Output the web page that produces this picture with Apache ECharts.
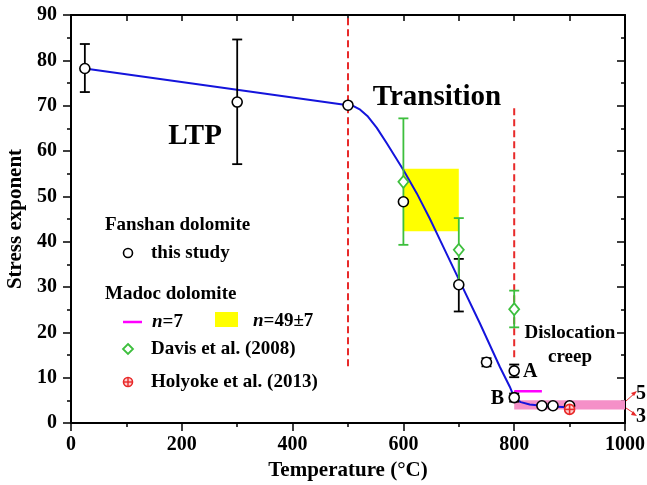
<!DOCTYPE html>
<html><head><meta charset="utf-8">
<script src="https://cdn.jsdelivr.net/npm/echarts@6/dist/echarts.min.js"></script>
<style>html,body{margin:0;padding:0;background:#fff}#c{width:647px;height:485px}</style>
</head><body><div id="c"></div>
<script>
const FONT = '"Liberation Serif","Times New Roman",serif';
// ---- data ----
const xTickLabels = ['0','200','400','600','800','1000'];
const yTickLabels = ['0','10','20','30','40','50','60','70','80','90'];
// Fanshan dolomite, this study
const studyT = [25, 300, 500, 600, 700, 750, 800, 800, 850, 870, 900];
const studyN = [78.2, 70.8, 70.1, 48.8, 30.5, 13.4, 11.5, 5.6, 3.8, 3.8, 3.8];
const studyErrT = [25, 300, 700, 750, 800, 800];
const studyErrLow = [73.0, 57.1, 24.6, 12.5, 10.1, 4.7];
const studyErrHigh = [83.6, 84.6, 36.2, 14.3, 12.9, 6.5];
// Davis et al. (2008)
const davisT = [600, 700, 800];
const davisN = [53.2, 38.2, 25.1];
const davisLow = [39.3, 31.0, 21.1];
const davisHigh = [67.2, 45.2, 29.2];
// Holyoke et al. (2013)
const holyokeT = [900];
const holyokeN = [3.0];
// Madoc n=49±7 box, n=7 line
const n49T = [600, 700];
const n49N = [42.3, 56.1];
const n7T = [800, 850];
const n7N = [7, 7];
// dislocation creep band n = 3..5
const bandT = [800, 1000];
const bandN = [3, 5];
// fitted curve
const fitT = [25, 500, 510, 522, 536, 552, 570, 600, 624, 648, 666, 702, 738, 774, 792, 801, 812, 828, 850, 901];
const fitN = [78.2, 70.1, 69.9, 69.1, 67.6, 65.1, 61.7, 55.8, 50.7, 45.0, 40.4, 31.2, 22.0, 12.4, 8.0, 5.4, 4.6, 4.1, 3.8, 3.4];
// regime boundaries (dashed)
const dashT = [500, 800];
const dashLow = [12.5, 14.5];
const dashHigh = [90, 69.5];

const GREEN = '#3dbf3d', BLUE = '#1414dc', RED = '#e82a2a';

function errRender(color) {
  return function (params, api) {
    const x = api.value(0), lo = api.value(1), hi = api.value(2);
    const a = api.coord([x, lo]), b = api.coord([x, hi]);
    const w = 5;
    const st = {stroke: color, lineWidth: 1.8};
    return {type: 'group', children: [
      {type: 'line', shape: {x1: a[0], y1: a[1], x2: b[0], y2: b[1]}, style: st},
      {type: 'line', shape: {x1: a[0]-w, y1: a[1], x2: a[0]+w, y2: a[1]}, style: st},
      {type: 'line', shape: {x1: b[0]-w, y1: b[1], x2: b[0]+w, y2: b[1]}, style: st}
    ]};
  };
}
function rectRender(color) {
  return function (params, api) {
    const p1 = api.coord([api.value(0), api.value(3)]);
    const p2 = api.coord([api.value(1), api.value(2)]);
    return {type: 'rect', shape: {x: p1[0], y: p1[1], width: p2[0]-p1[0], height: p2[1]-p1[1]},
      style: {fill: color}};
  };
}

const series = [
  {type: 'custom', z: 1, renderItem: rectRender('#ffff00'),
   data: [[n49T[0], n49T[1], n49N[0], n49N[1]]]},
  {type: 'custom', z: 1, renderItem: rectRender('#f590c8'),
   data: [[bandT[0], bandT[1], bandN[0], bandN[1]]]},
  {type: 'line', z: 2, data: n7T.map((t, i) => [t, n7N[i]]), symbol: 'none',
   lineStyle: {color: '#ff00ff', width: 2.5}},
  {type: 'custom', z: 2, renderItem: function (params, api) {
     const x = api.value(0);
     const a = api.coord([x, api.value(1)]), b = api.coord([x, api.value(2)]);
     return {type: 'line', shape: {x1: a[0], y1: a[1], x2: b[0], y2: b[1]},
       style: {stroke: RED, lineWidth: 2, lineDash: [7, 4]}};
   }, data: dashT.map((t, i) => [t, dashLow[i], dashHigh[i]])},
  {type: 'line', z: 3, data: fitT.map((t, i) => [t, fitN[i]]), symbol: 'none', smooth: false,
   lineStyle: {color: BLUE, width: 2, join: 'round'}},
  {type: 'custom', z: 4, renderItem: errRender('#000'),
   data: studyErrT.map((t, i) => [t, studyErrLow[i], studyErrHigh[i]])},
  {type: 'custom', z: 4, renderItem: errRender(GREEN),
   data: davisT.map((t, i) => [t, davisLow[i], davisHigh[i]])},
  {type: 'scatter', z: 5, data: davisT.map((t, i) => [t, davisN[i]]), symbol: 'diamond', symbolSize: [10, 12],
   itemStyle: {color: '#fff', borderColor: GREEN, borderWidth: 1.8, opacity: 1}},
  {type: 'scatter', z: 5, data: studyT.map((t, i) => [t, studyN[i]]), symbol: 'circle', symbolSize: 10,
   itemStyle: {color: '#fff', borderColor: '#000', borderWidth: 1.6, opacity: 1}},
  {type: 'custom', z: 6, renderItem: function (params, api) {
     const p = api.coord([api.value(0), api.value(1)]);
     const r = 5, st = {stroke: RED, lineWidth: 1.6};
     return {type: 'group', children: [
       {type: 'circle', shape: {cx: p[0], cy: p[1], r: r}, style: {fill: '#ffd0d0', stroke: RED, lineWidth: 1.6}},
       {type: 'line', shape: {x1: p[0]-r, y1: p[1], x2: p[0]+r, y2: p[1]}, style: st},
       {type: 'line', shape: {x1: p[0], y1: p[1]-r, x2: p[0], y2: p[1]+r}, style: st}
     ]};
   }, data: holyokeT.map((t, i) => [t, holyokeN[i]])}
];

const axLine = {show: true, onZero: false, lineStyle: {color: '#000', width: 2}};
const tickStyle = {color: '#000', width: 1.5};
const lblStyle = {color: '#000', fontFamily: FONT, fontWeight: 'bold', fontSize: 20};

function txt(x, y, s, size, align, extra) {
  return Object.assign({type: 'text', x: x, y: y, z: 100,
    style: {text: s, fontFamily: FONT, fontWeight: 'bold', fontSize: size, fill: '#000',
      textAlign: align || 'left', textVerticalAlign: 'middle'}}, extra || {});
}

const graphics = [
  txt(195, 137, 'LTP', 29, 'center'),
  txt(437, 98, 'Transition', 29, 'center'),
  txt(570, 333, 'Dislocation', 19, 'center'),
  txt(570, 357, 'creep', 19, 'center'),
  txt(523, 372, 'A', 20, 'left'),
  txt(504, 399, 'B', 20, 'right'),
  txt(636, 394, '5', 20, 'left'),
  txt(636, 417, '3', 20, 'left'),
  // arrows to 5 and 3
  {type: 'line', shape: {x1: 626, y1: 401, x2: 635, y2: 393}, style: {stroke: RED, lineWidth: 1}},
  {type: 'polygon', shape: {points: [[637, 391], [631, 393], [634, 396]]}, style: {fill: RED}},
  {type: 'line', shape: {x1: 626, y1: 408, x2: 635, y2: 414}, style: {stroke: RED, lineWidth: 1}},
  {type: 'polygon', shape: {points: [[637, 416], [631, 415], [633, 411]]}, style: {fill: RED}},
  // legend
  txt(105, 225, 'Fanshan dolomite', 19),
  {type: 'circle', shape: {cx: 128, cy: 253, r: 4.5}, style: {fill: '#fff', stroke: '#000', lineWidth: 1.6}},
  txt(151, 253, 'this study', 19),
  txt(105, 294, 'Madoc dolomite', 19),
  {type: 'line', shape: {x1: 123, y1: 322, x2: 142, y2: 322}, style: {stroke: '#ff00ff', lineWidth: 2.5}},
  {type: 'text', x: 152, y: 322, style: {text: '{i|n}{r|=7}', textVerticalAlign: 'middle',
     rich: {i: {fontFamily: FONT, fontWeight: 'bold', fontStyle: 'italic', fontSize: 19, fill: '#000'},
            r: {fontFamily: FONT, fontWeight: 'bold', fontSize: 19, fill: '#000'}}}},
  {type: 'rect', shape: {x: 215, y: 312, width: 23, height: 15}, style: {fill: '#ffff00'}},
  {type: 'text', x: 253, y: 321, style: {text: '{i|n}{r|=49±7}', textVerticalAlign: 'middle',
     rich: {i: {fontFamily: FONT, fontWeight: 'bold', fontStyle: 'italic', fontSize: 19, fill: '#000'},
            r: {fontFamily: FONT, fontWeight: 'bold', fontSize: 19, fill: '#000'}}}},
  {type: 'polygon', shape: {points: [[128, 344], [133, 349], [128, 354], [123, 349]]},
   style: {fill: '#fff', stroke: GREEN, lineWidth: 1.8}},
  txt(151, 349, 'Davis et al. (2008)', 19),
  {type: 'circle', shape: {cx: 128, cy: 382, r: 4.5}, style: {fill: '#ffd0d0', stroke: RED, lineWidth: 1.6}},
  {type: 'line', shape: {x1: 123.5, y1: 382, x2: 132.5, y2: 382}, style: {stroke: RED, lineWidth: 1.4}},
  {type: 'line', shape: {x1: 128, y1: 377.5, x2: 128, y2: 386.5}, style: {stroke: RED, lineWidth: 1.4}},
  txt(151, 382, 'Holyoke et al. (2013)', 19)
];

const option = {
  animation: false,
  backgroundColor: '#fff',
  grid: {left: 71, right: 22, top: 15, bottom: 62, containLabel: false, outerBoundsMode: 'none'},
  xAxis: [
    {type: 'value', min: 0, max: 1000, interval: 200, position: 'bottom',
     name: 'Temperature (°C)', nameLocation: 'middle', nameGap: 31,
     nameTextStyle: {color: '#000', fontFamily: FONT, fontWeight: 'bold', fontSize: 21},
     axisLine: axLine, splitLine: {show: false},
     axisTick: {show: true, inside: false, length: 8, lineStyle: tickStyle},
     minorTick: {show: true, splitNumber: 2, length: 4, lineStyle: tickStyle},
     axisLabel: Object.assign({margin: 12, formatter: (v) => xTickLabels[Math.round(v / 200)]}, lblStyle)},
    {type: 'value', min: 0, max: 1000, interval: 100, position: 'top',
     axisLine: axLine, splitLine: {show: false},
     axisTick: {show: true, inside: true, length: 6, lineStyle: tickStyle},
     axisLabel: {show: false}}
  ],
  yAxis: [
    {type: 'value', min: 0, max: 90, interval: 10, position: 'left',
     name: 'Stress exponent', nameLocation: 'middle', nameGap: 43,
     nameTextStyle: {color: '#000', fontFamily: FONT, fontWeight: 'bold', fontSize: 21},
     axisLine: axLine, splitLine: {show: false},
     axisTick: {show: true, inside: false, length: 8, lineStyle: tickStyle},
     minorTick: {show: true, splitNumber: 2, length: 4, lineStyle: tickStyle},
     axisLabel: Object.assign({margin: 14, formatter: (v) => yTickLabels[Math.round(v / 10)]}, lblStyle)},
    {type: 'value', min: 0, max: 90, interval: 10, position: 'right',
     axisLine: axLine, splitLine: {show: false},
     axisTick: {show: true, inside: true, length: 8, lineStyle: tickStyle},
     minorTick: {show: true, splitNumber: 2, length: 4, lineStyle: tickStyle},
     axisLabel: {show: false}}
  ],
  series: series,
  graphic: graphics
};
const chart = echarts.init(document.getElementById('c'), null, {renderer: 'canvas'});
chart.setOption(option);
</script>
</body></html>
